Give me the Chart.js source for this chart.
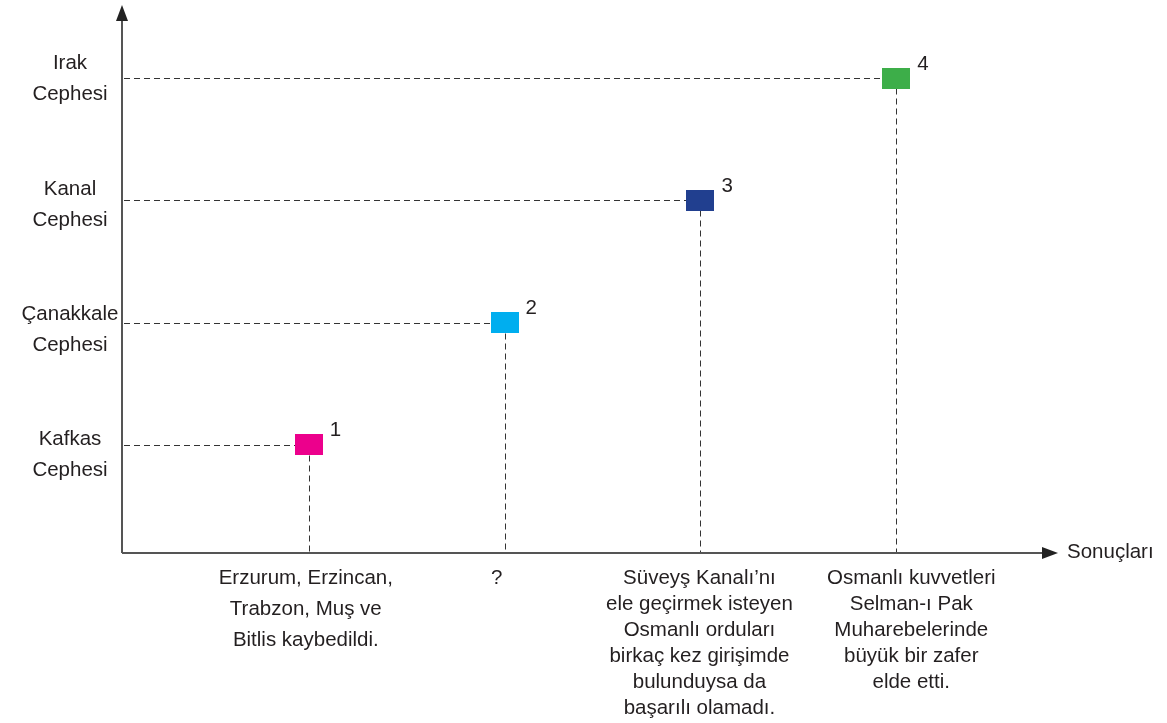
<!DOCTYPE html>
<html>
<head>
<meta charset="utf-8">
<script src="https://cdn.jsdelivr.net/npm/chart.js@4.4.1/dist/chart.umd.min.js"></script>
<style>
html,body{margin:0;padding:0;background:#fff;}
#wrap{width:1167px;height:723px;}
</style>
</head>
<body>
<div id="wrap"><canvas id="c" width="1167" height="723"></canvas></div>
<script>
// ---- data ----
const fronts = [["Kafkas","Cephesi"],["Çanakkale","Cephesi"],["Kanal","Cephesi"],["Irak","Cephesi"]];
const frontValues = [1, 2, 3, 4];
const resultPositions = [1, 2, 3, 4];
const pointNumbers = ["1", "2", "3", "4"];
const resultTexts = [
  ["Erzurum, Erzincan,", "Trabzon, Muş ve", "Bitlis kaybedildi."],
  ["?"],
  ["Süveyş Kanalı’nı", "ele geçirmek isteyen", "Osmanlı orduları", "birkaç kez girişimde", "bulunduysa da", "başarılı olamadı."],
  ["Osmanlı kuvvetleri", "Selman-ı Pak", "Muharebelerinde", "büyük bir zafer", "elde etti."]
];
const xAxisTitle = "Sonuçları";

// ---- styles ----
const pointColors = ["#EC008C", "#00AEEF", "#213F8F", "#3DAE49"];
const FONT = '20.5px "Liberation Sans", Arial, Helvetica, sans-serif';
const TEXT = "#231F20";
const AXIS = "#555555";
const resultLineHeights = [31, 26, 26, 26];
const resultShiftX = [-3, -8, -1, 15];
const frontShiftY = [7, 4, 1, -3];

function makeRect(color){
  const cv = document.createElement('canvas');
  cv.width = 28; cv.height = 21;
  const g = cv.getContext('2d');
  g.fillStyle = color; g.fillRect(0,0,28,21);
  return cv;
}

const decor = {
  id: 'decor',
  beforeDatasetsDraw(chart){
    const ctx = chart.ctx, a = chart.chartArea;
    const xs = chart.scales.x, ys = chart.scales.y;
    ctx.save();
    // dashed guides
    ctx.strokeStyle = "#333";
    ctx.lineWidth = 1;
    ctx.setLineDash([6,4]);
    resultPositions.forEach((xv,i)=>{
      const px = Math.round(xs.getPixelForValue(xv)) + 0.5;
      const py = Math.round(ys.getPixelForValue(frontValues[i])) + 0.5;
      ctx.beginPath();
      ctx.moveTo(a.left + 2, py); ctx.lineTo(px - 14, py);
      ctx.moveTo(px, py + 10); ctx.lineTo(px, a.bottom - 1);
      ctx.stroke();
    });
    ctx.setLineDash([]);
    // axes
    ctx.strokeStyle = AXIS; ctx.lineWidth = 2;
    ctx.beginPath();
    ctx.moveTo(a.left, a.bottom); ctx.lineTo(a.left, a.top + 14);
    ctx.moveTo(a.left, a.bottom); ctx.lineTo(a.right - 14, a.bottom);
    ctx.stroke();
    ctx.fillStyle = "#222";
    ctx.beginPath();
    ctx.moveTo(a.left, a.top); ctx.lineTo(a.left - 6, a.top + 16); ctx.lineTo(a.left + 6, a.top + 16); ctx.closePath();
    ctx.fill();
    ctx.beginPath();
    ctx.moveTo(a.right, a.bottom); ctx.lineTo(a.right - 16, a.bottom - 6); ctx.lineTo(a.right - 16, a.bottom + 6); ctx.closePath();
    ctx.fill();
    // texts
    ctx.font = FONT; ctx.fillStyle = TEXT;
    ctx.textBaseline = 'middle';
    ctx.textAlign = 'left';
    ctx.fillText(xAxisTitle, a.right + 9, a.bottom - 1);
    ctx.textAlign = 'center';
    fronts.forEach((lines,i)=>{
      const py = ys.getPixelForValue(frontValues[i]) + frontShiftY[i];
      ctx.fillText(lines[0], 70, py - 12);
      ctx.fillText(lines[1], 70, py + 19);
    });
    resultTexts.forEach((lines,i)=>{
      const px = xs.getPixelForValue(resultPositions[i]) + resultShiftX[i];
      lines.forEach((t,j)=>ctx.fillText(t, px, 578 + j*resultLineHeights[i]));
    });
    ctx.textAlign = 'left';
    pointNumbers.forEach((n,i)=>{
      const px = xs.getPixelForValue(resultPositions[i]);
      const py = ys.getPixelForValue(frontValues[i]);
      ctx.fillText(n, px + 21, py - 14);
    });
    ctx.restore();
  }
};

new Chart(document.getElementById('c'), {
  type: 'scatter',
  data: {
    datasets: [{
      data: resultPositions.map((x,i)=>({x:x, y:frontValues[i]})),
      pointStyle: pointColors.map(makeRect),
      pointRadius: 10,
      pointHoverRadius: 10
    }]
  },
  options: {
    responsive: false,
    animation: false,
    events: [],
    layout: { autoPadding: false, padding: { left: 122, right: 109, top: 5, bottom: 170 } },
    plugins: { legend: { display: false }, tooltip: { enabled: false } },
    scales: {
      x: { type: 'linear', display: false, min: 0.046, max: 4.826 },
      y: { type: 'linear', display: false, min: 0.111, max: 4.602 }
    }
  },
  plugins: [decor]
});
</script>
</body>
</html>
